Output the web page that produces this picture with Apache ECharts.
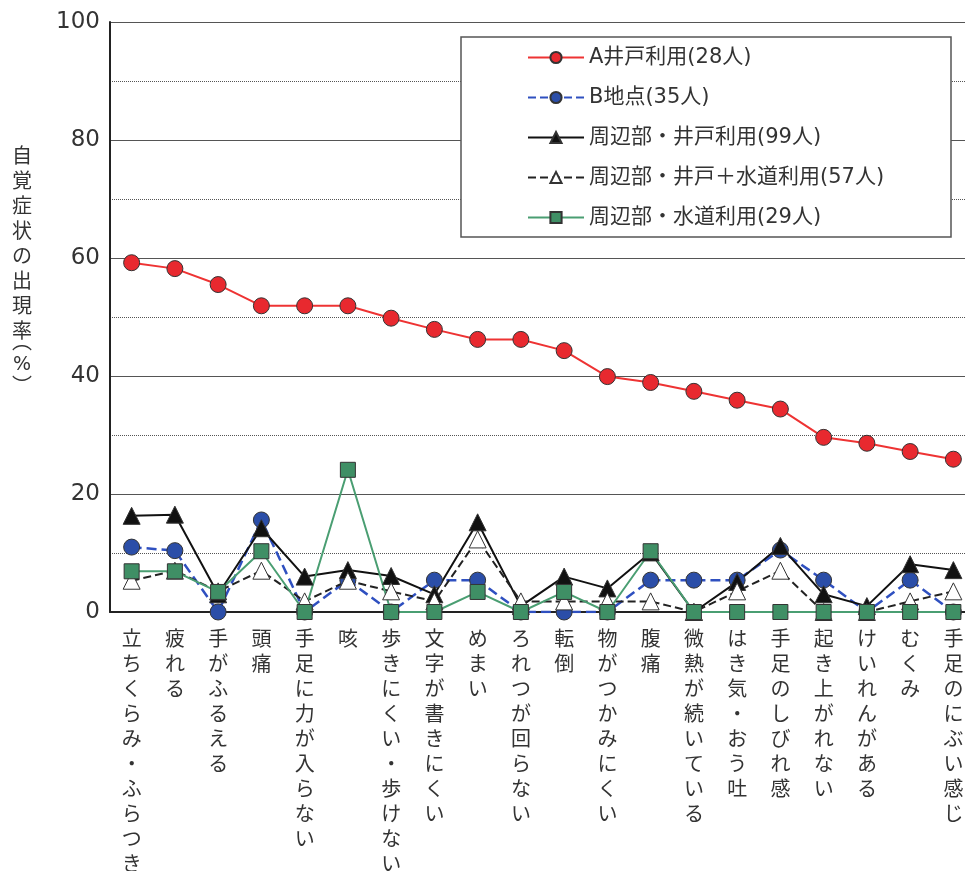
<!DOCTYPE html>
<html><head><meta charset="utf-8">
<script src="https://cdn.jsdelivr.net/npm/echarts@6/dist/echarts.min.js"></script>
<style>html,body{margin:0;padding:0;background:#fff;}#c{width:965px;height:871px;}</style>
</head><body><div id="c"></div>
<script>
var categories = ['立ちくらみ・ふらつき','疲れる','手がふるえる','頭痛','手足に力が入らない','咳','歩きにくい・歩けない','文字が書きにくい','めまい','ろれつが回らない','転倒','物がつかみにくい','腹痛','微熱が続いている','はき気・おう吐','手足のしびれ感','起き上がれない','けいれんがある','むくみ','手足のにぶい感じ'];
var seriesNames = ['A井戸利用(28人)','B地点(35人)','周辺部・井戸利用(99人)','周辺部・井戸＋水道利用(57人)','周辺部・水道利用(29人)'];
var valuesA = [59.2, 58.2, 55.5, 51.9, 51.9, 51.9, 49.8, 47.9, 46.2, 46.2, 44.3, 39.9, 38.9, 37.4, 35.9, 34.4, 29.6, 28.6, 27.2, 25.9];
var valuesB = [11.0, 10.4, 0, 15.6, 0, 5.4, 0, 5.4, 5.4, 0, 0, 0, 5.4, 5.4, 5.4, 10.5, 5.4, 0, 5.4, 0];
var valuesWell = [16.3, 16.5, 3.0, 14.2, 6.0, 7.1, 6.1, 3.0, 15.2, 1.0, 6.0, 4.0, 10.1, 0, 5.1, 11.2, 3.0, 1.0, 8.1, 7.1];
var valuesWellWater = [5.3, 7.0, 3.5, 7.0, 1.8, 5.3, 3.5, 1.8, 12.3, 1.8, 1.8, 1.8, 1.8, 0, 3.5, 7.0, 0, 0, 1.8, 3.5];
var valuesWater = [6.9, 6.9, 3.4, 10.3, 0, 24.1, 0, 0, 3.4, 0, 3.4, 0, 10.3, 0, 0, 0, 0, 0, 0, 0];
var yTicks = [0, 20, 40, 60, 80, 100];
var yName = ['自','覚','症','状','の','出','現','率'];

var FONT = '"Noto Sans CJK JP", "Noto Sans", sans-serif';
var MIX = '"DejaVu Sans", "Noto Sans CJK JP", sans-serif';
var chart = echarts.init(document.getElementById('c'));
function mk(name, data, color, lineType, symbol, fill, size, lw) {
  return {
    name: name, type: 'line', data: data, symbol: symbol, symbolSize: size,
    lineStyle: {color: color, width: lw, type: lineType},
    itemStyle: {color: fill, borderColor: '#333', borderWidth: 1},
    emphasis: {disabled: true}, animation: false
  };
}
var graphics = [
  {type: 'rect', shape: {x: 461, y: 37, width: 490, height: 200}, style: {fill: '#fff', stroke: '#555', lineWidth: 1.5}, z: 3},
  {type: 'text', x: 22, y: 143, style: {text: yName.join('\n'), font: '20px ' + FONT, lineHeight: 25, fill: '#333', align: 'center', verticalAlign: 'top'}, z: 5},
  {type: 'text', x: 22, y: 341, style: {text: '︵', font: '20px ' + FONT, fill: '#333', align: 'center', verticalAlign: 'middle'}, z: 5},
  {type: 'text', x: 22, y: 365, style: {text: '%', font: '19px ' + MIX, fill: '#333', align: 'center', verticalAlign: 'middle'}, z: 5},
  {type: 'text', x: 22, y: 385, style: {text: '︶', font: '20px ' + FONT, fill: '#333', align: 'center', verticalAlign: 'middle'}, z: 5}
];
chart.setOption({
  animation: false,
  textStyle: {fontFamily: FONT},
  grid: {left: 110, top: 22, width: 865, height: 590, containLabel: false, outerBoundsMode: 'none'},
  legend: {
    orient: 'vertical', left: 527, top: 47, padding: 0, itemWidth: 56, itemHeight: 14, itemGap: 19,
    textStyle: {fontSize: 21, color: '#333', fontFamily: MIX, lineHeight: 21},
    data: seriesNames, z: 6, selectedMode: false
  },
  graphic: graphics,
  xAxis: {
    type: 'category', data: categories, boundaryGap: true,
    axisLine: {lineStyle: {color: '#222', width: 2}},
    axisTick: {inside: true, length: 5, lineStyle: {color: '#444'}},
    axisLabel: {interval: 0, margin: 14, fontSize: 20, lineHeight: 25, color: '#333', verticalAlign: 'top',
      formatter: function (v) { return v.split('').join('\n'); }}
  },
  yAxis: {
    type: 'value', min: yTicks[0], max: yTicks[yTicks.length - 1], interval: 20,
    axisLine: {show: true, lineStyle: {color: '#222', width: 2}},
    axisTick: {show: false},
    axisLabel: {fontSize: 23, color: '#333', margin: 10, fontFamily: MIX},
    splitLine: {lineStyle: {color: '#555', width: 1}},
    minorTick: {show: false, splitNumber: 2},
    minorSplitLine: {show: true, lineStyle: {color: '#555', width: 1, type: 'dotted'}}
  },
  series: [
    mk(seriesNames[0], valuesA, '#ee3333', 'solid', 'circle', '#e8292f', 16, 2),
    mk(seriesNames[1], valuesB, '#2f50c0', 'dashed', 'circle', '#2b4ea8', 16, 2.5),
    mk(seriesNames[2], valuesWell, '#111', 'solid', 'triangle', '#111', 17, 2),
    mk(seriesNames[3], valuesWellWater, '#222', 'dashed', 'triangle', '#fff', 17, 2),
    mk(seriesNames[4], valuesWater, '#4a9e72', 'solid', 'rect', '#3f8f65', 15, 2)
  ]
});
</script></body></html>
